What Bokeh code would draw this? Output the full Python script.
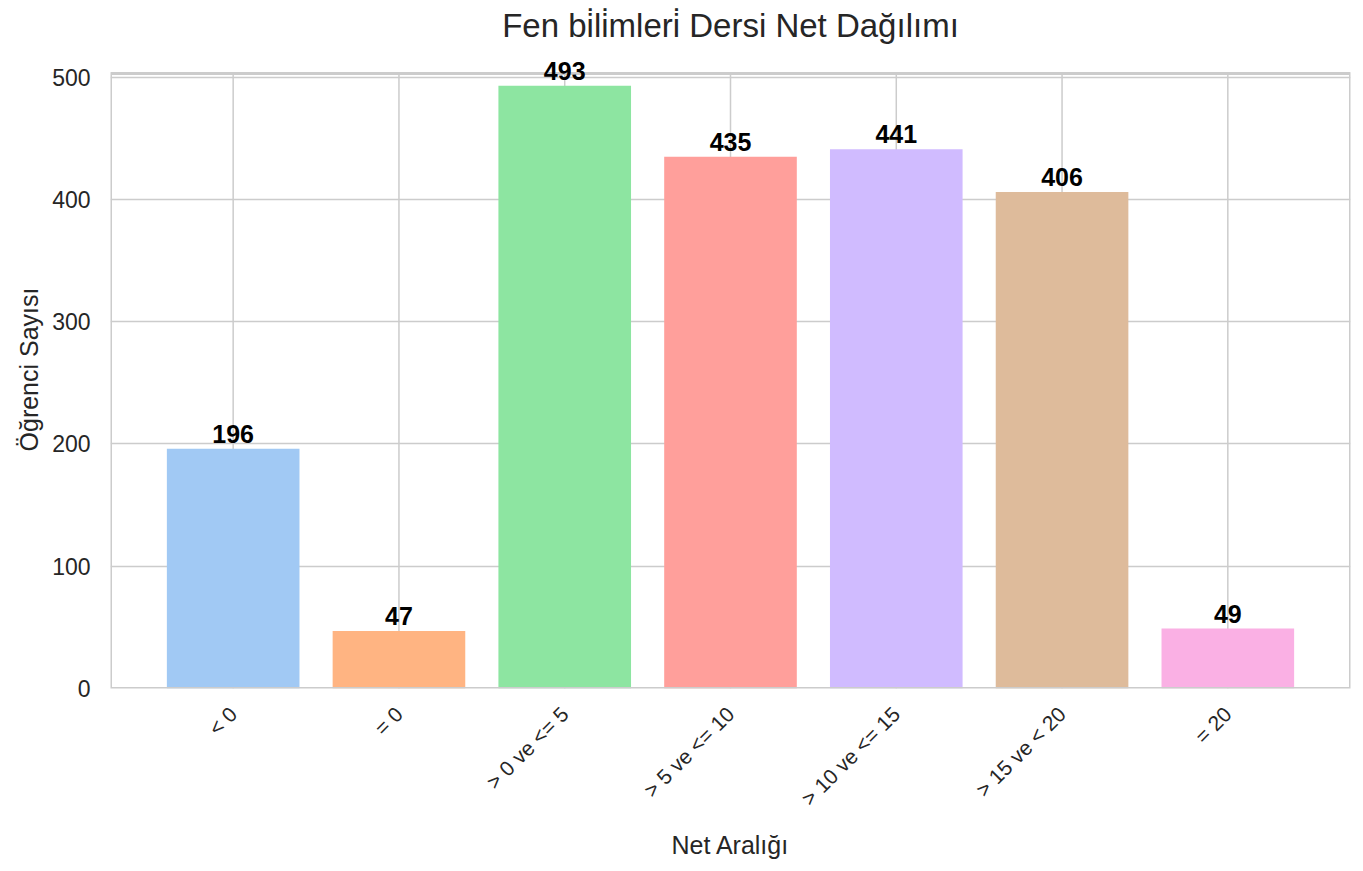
import math
from bokeh.plotting import figure
from bokeh.models import ColumnDataSource, FixedTicker, Range1d, LabelSet
from bokeh.core.properties import value
from bokeh.embed import file_html
from bokeh.resources import INLINE

categories = ["< 0", "= 0", "> 0 ve <= 5", "> 5 ve <= 10", "> 10 ve <= 15", "> 15 ve < 20", "= 20"]
counts = [196, 47, 493, 435, 441, 406, 49]
colors = ["#a1c9f4", "#ffb482", "#8de5a1", "#ff9f9b", "#d0bbff", "#debb9b", "#fab0e4"]
y_ticks = [0, 100, 200, 300, 400, 500]

title_text = "Fen bi\u0307li\u0307mleri\u0307 Dersi Net Dağılımı"
FONT = "Liberation Sans"

Y_MAX = 503          # top of the axes box
X_PAD = 0.74
FRAME_H = 615        # px between 0 and Y_MAX
EXTRA_TOP = 23       # px of headroom above the axes box so labels are not clipped

xs = list(range(len(categories)))
src = ColumnDataSource(dict(x=xs, top=counts, color=colors,
                            label=[str(c) for c in counts]))

y_end = Y_MAX + EXTRA_TOP * Y_MAX / FRAME_H
x0, x1 = -X_PAD, len(categories) - 1 + X_PAD

p = figure(width=1360, height=862, output_backend="svg", toolbar_location=None,
           x_range=Range1d(x0, x1), y_range=Range1d(0, y_end),
           min_border_left=110, min_border_right=10, min_border_top=50, min_border_bottom=174)

p.title.text = title_text
p.title.align = "center"
p.title.vertical_align = "top"
p.title.text_font = FONT
p.title.text_font_size = "33px"
p.title.text_font_style = "normal"
p.title.text_color = "#262626"
p.title.standoff = 10

# vertical grid lines, limited to the axes box
p.segment(x0=xs, y0=[0] * len(xs), x1=xs, y1=[Y_MAX] * len(xs),
          line_color="#cccccc", line_width=1.5, level="underlay")

p.vbar(x="x", top="top", width=0.8, bottom=0, fill_color="color", line_color=None, source=src)

# axes box
p.quad(left=[x0], right=[x1], bottom=[0], top=[Y_MAX], fill_color=None,
       line_color="#cccccc", line_width=3)

labels = LabelSet(x="x", y="top", text="label", source=src, text_align="center",
                  text_baseline="alphabetic", y_offset=6, text_font=value(FONT),
                  text_font_size="25px", text_font_style="bold", text_color="black",
                  level="overlay")
p.add_layout(labels)

p.xaxis.ticker = FixedTicker(ticks=xs)
p.xaxis.major_label_overrides = {i: c for i, c in enumerate(categories)}
p.xaxis.major_label_orientation = math.pi / 4
p.yaxis.ticker = FixedTicker(ticks=y_ticks)

for ax in (p.xaxis, p.yaxis):
    ax.axis_line_color = None
    ax.major_tick_line_color = None
    ax.minor_tick_line_color = None
    ax.major_label_text_font = FONT
    ax.major_label_text_color = "#262626"
    ax.axis_label_text_font = FONT
    ax.axis_label_text_font_size = "25px"
    ax.axis_label_text_font_style = "normal"
    ax.axis_label_text_color = "#262626"

p.xaxis.major_label_text_font_size = "21px"
p.yaxis.major_label_text_font_size = "23px"
p.xaxis.axis_label = "Net Aralığı"
p.yaxis.axis_label = "Öğrenci Sayısı"
p.xaxis.major_label_standoff = 16
p.yaxis.major_label_standoff = 14
p.xaxis.axis_label_standoff = 10
p.yaxis.axis_label_standoff = 6

p.xgrid.grid_line_color = None
p.ygrid.grid_line_color = "#cccccc"
p.ygrid.grid_line_width = 1.5
p.outline_line_color = None
p.background_fill_color = "white"
p.border_fill_color = "white"

open("out.html", "w").write(file_html(p, INLINE))
